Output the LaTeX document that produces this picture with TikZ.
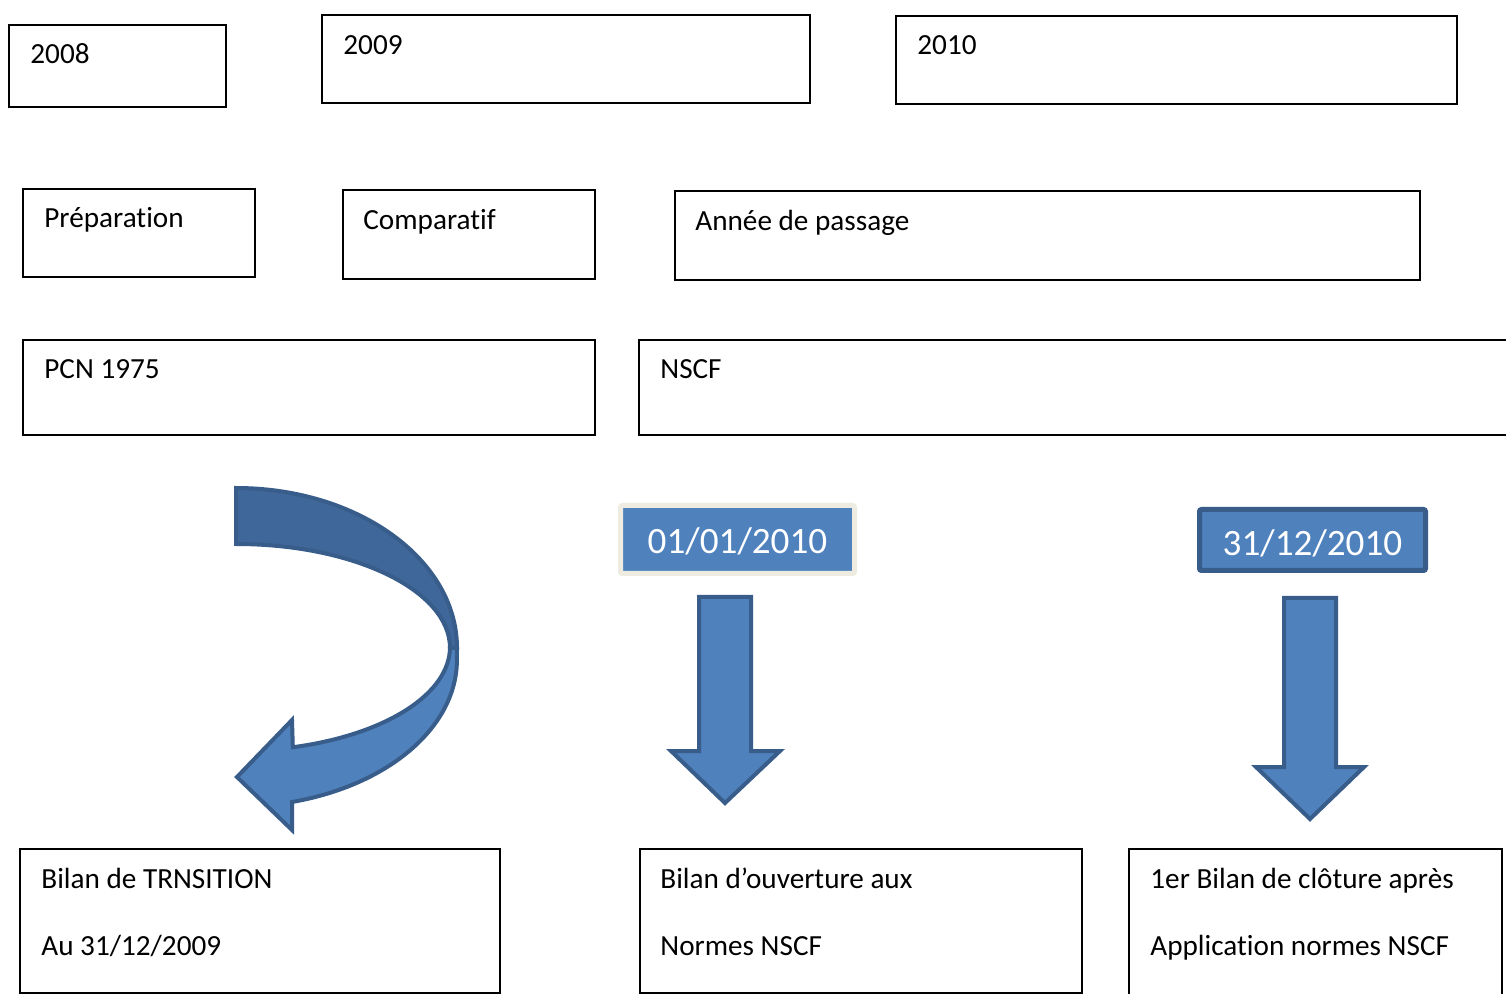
\documentclass[tikz,border=0pt]{standalone}
\usepackage{fontspec}
\setmainfont{Carlito}[Ligatures={NoCommon,NoRare,NoContextual}]
\definecolor{accentblue}{HTML}{4F81BD}
\definecolor{accentdark}{HTML}{40679A}
\definecolor{edgeblue}{HTML}{385D8A}
\definecolor{paper}{HTML}{EEECE1}
\begin{document}
\begin{tikzpicture}[x=0.5pt,y=-0.5pt,
  frame/.style={draw=black,line width=1pt},
  label/.style={anchor=base west,inner sep=0pt,font=\fontsize{14.6}{17}\selectfont},
  datebox/.style={fill=accentblue,line width=2.5pt,rounded corners=1pt},
  datetext/.style={text=white,inner sep=0pt,font=\fontsize{18.6}{22}\selectfont},
  blockarrow/.style={fill=accentblue,draw=edgeblue,line width=2pt,line join=miter}]
\useasboundingbox (0,0) rectangle (1506,994);
\fill[white] (0,0) rectangle (1506,994);

% years
\draw[frame] (9,25) rectangle (226,107);
\node[label] (y2008) at (30,64) {2008};
\draw[frame] (322,15) rectangle (810,103);
\node[label] (y2009) at (343,55) {2009};
\draw[frame] (896,16) rectangle (1457,104);
\node[label] (y2010) at (917,55) {2010};

% phases
\draw[frame] (23,189) rectangle (255,277);
\node[label] (prep) at (44,228) {Préparation};
\draw[frame] (343,190) rectangle (595,279);
\node[label] (comp) at (363,230) {Comparatif};
\draw[frame] (675,191) rectangle (1420,280);
\node[label] (pass) at (695,231) {Année de passage};

% referentials
\draw[frame] (23,340) rectangle (595,435);
\node[label] (pcn) at (44,379) {PCN 1975};
\draw[frame] (639,340) rectangle (1530,435);
\node[label] (nscf) at (660,379) {NSCF};

% balance sheets
\draw[frame] (20,849) rectangle (500,993);
\node[label] (bt1) at (41,888) {Bilan de TRNSITION};
\node[label] (bt2) at (41,955) {Au 31/12/2009};
\draw[frame] (640,849) rectangle (1082,993);
\node[label] (bo1) at (660,888) {Bilan d’ouverture aux};
\node[label] (bo2) at (660,955) {Normes NSCF};
\draw[frame] (1129,849) rectangle (1502,1000);
\node[label] (bc1) at (1150,888) {1er Bilan de clôture après};
\node[label] (bc2) at (1150,955) {Application normes NSCF};

% dates
\draw[datebox,draw=paper] (620.5,505.5) rectangle (854.5,573.5);
\node[datetext] (d1) at (737.5,541) {01/01/2010};
\draw[datebox,draw=edgeblue] (1199.5,509.5) rectangle (1425.5,570.5);
\node[datetext] (d2) at (1312.5,543) {31/12/2010};

% straight block arrows
\draw[blockarrow] (699,597) -- (751,597) -- (751,751) -- (780,751) -- (725,803)
  -- (671,751) -- (699,751) -- cycle;
\draw[blockarrow] (1284,598) -- (1336,598) -- (1336,767) -- (1364,767) -- (1310,819)
  -- (1256,767) -- (1284,767) -- cycle;

% curved U-turn arrow: front band with head, then back band
\draw[blockarrow] (450,647) arc[start angle=0,end angle=74.6,x radius=214,y radius=104]
  -- (292,720) -- (237,777) -- (292,830) -- (292,802)
  arc[start angle=75.3,end angle=0,x radius=221,y radius=147] -- (457,648) -- cycle;
\draw[blockarrow,fill=accentdark] (236,488)
  arc[start angle=-90,end angle=0,x radius=221,y radius=160] -- (450,648)
  arc[start angle=0,end angle=-90,x radius=214,y radius=104] -- cycle;
\end{tikzpicture}
\end{document}
